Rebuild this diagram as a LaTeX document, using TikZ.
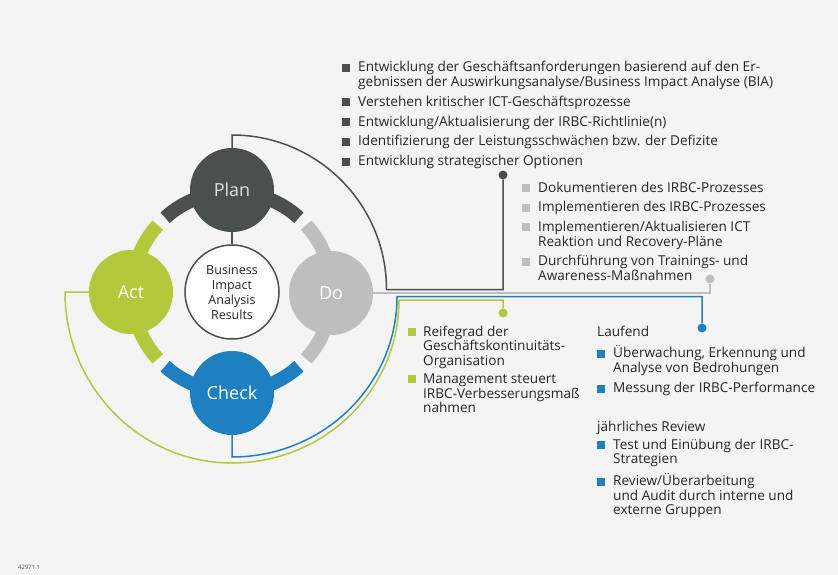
\documentclass[tikz,border=0pt]{standalone}
\usepackage{fontspec}
\setmainfont{Open Sans}
\usepackage{tikz}
\usetikzlibrary{calc}
\definecolor{plangray}{RGB}{75,79,78}
\definecolor{dogray}{RGB}{190,190,190}
\definecolor{checkblue}{RGB}{30,128,192}
\definecolor{actgreen}{RGB}{180,200,60}
\definecolor{paper}{RGB}{244,244,244}
\def\centerarm[#1](#2)(#3:#4){\draw[#1] ($(#2)+(#3:100)$) arc (#3:#4:100);}
\def\sq#1{\textcolor{#1}{\rule{8pt}{8pt}}}

\begin{document}
\begin{tikzpicture}[x=1pt, y=-1pt,
	stage/.style={circle, minimum size=84pt, inner sep=0pt, font=\fontsize{18}{20}\selectfont, text=white},
	link/.style={line width=1.5pt},
	arm/.style={line width=14pt},
	knob/.style={circle, minimum size=9pt, inner sep=0pt},
	txt/.style={anchor=base west, inner sep=0pt, text=black!85, font=\fontsize{13.6}{14.5}\selectfont}]
			%%%%% START %%%%%
			
			\fill[paper] (0, 0) rectangle (838, 575);
			\useasboundingbox (0, 0) rectangle (838, 575);
			
			\coordinate (C) at (232, 292);
			
			\centerarm[arm, plangray](C)(228:312);
			\centerarm[arm, dogray](C)(-42:42);
			\centerarm[arm, checkblue](C)(48:132);
			\centerarm[arm, actgreen](C)(138:222);
			
			\node[stage, fill=plangray, text=black!12] (plan) at (232, 190) {Plan};
			\node[stage, fill=dogray] (do) at (331, 293) {Do};
			\node[stage, fill=checkblue] (check) at (232, 393) {Check};
			\node[stage, fill=actgreen] (act) at (131, 292) {Act};
			\node[circle, draw=plangray, line width=1.5pt, fill=white, minimum size=94pt, inner sep=0pt, align=center, text=black!85, font=\fontsize{12.5}{15}\selectfont] (bia) at (C) {Business\\Impact\\Analysis\\Results};
			
			\draw[link, plangray] (plan.south) -- (bia.north);
			
			\node[knob, fill=plangray] (plandot) at (503, 175) {};
			\node[knob, fill=dogray] (dodot) at (710, 279) {};
			\node[knob, fill=checkblue] (checkdot) at (702, 328) {};
			\node[knob, fill=actgreen] (actdot) at (503, 313) {};
			
			\draw[link, plangray] (plan.north) -- (232, 135) arc (270:360:154.5) -- (503, 289.5) -- (plandot);
			\draw[link, dogray] (do.east) -- (710, 293) -- (dodot);
			\draw[link, checkblue] (check.south) -- (232, 457) arc [start angle=90, end angle=0, x radius=165, y radius=160.5] -- (702, 296.5) -- (checkdot);
			\draw[link, actgreen] (act.west) -- (65, 292) arc [start angle=180, end angle=90, x radius=167, y radius=171] arc [start angle=90, end angle=0, x radius=167, y radius=163] -- (503, 300) -- (actdot);
			
			\node[txt] (plantext) at (342, 72) {\begin{tabular}[t]{@{}l@{\hspace{8pt}}l@{}}
				\sq{plangray} & Entwicklung der Geschäftsanforderungen basierend auf den Er-\\
				& gebnissen der Auswirkungsanalyse/Business Impact Analyse (BIA)\\[5pt]
				\sq{plangray} & Verstehen kritischer ICT-Geschäftsprozesse\\[5pt]
				\sq{plangray} & Entwicklung/Aktualisierung der IRBC-Richtlinie(n)\\[5pt]
				\sq{plangray} & Identifizierung der Leistungsschwächen bzw. der Defizite\\[5pt]
				\sq{plangray} & Entwicklung strategischer Optionen
			\end{tabular}};
			
			\node[txt] (dotext) at (522, 192) {\begin{tabular}[t]{@{}l@{\hspace{8pt}}l@{}}
				\sq{dogray} & Dokumentieren des IRBC-Prozesses\\[5pt]
				\sq{dogray} & Implementieren des IRBC-Prozesses\\[5pt]
				\sq{dogray} & Implementieren/Aktualisieren ICT\\
				& Reaktion und Recovery-Pläne\\[5pt]
				\sq{dogray} & Durchführung von Trainings- und\\
				& Awareness-Maßnahmen
			\end{tabular}};
			
			\node[txt] (acttext) at (408, 336) {\begin{tabular}[t]{@{}l@{\hspace{7pt}}l@{}}
				\sq{actgreen} & Reifegrad der\\
				& Geschäftskontinuitäts-\\
				& Organisation\\[3.5pt]
				\sq{actgreen} & Management steuert\\
				& IRBC-Verbesserungsmaß\\
				& nahmen
			\end{tabular}};
			
			\node[txt] (checktext) at (597, 336) {\begin{tabular}[t]{@{}l@{\hspace{8pt}}l@{}}
				\multicolumn{2}{@{}l}{Laufend}\\[5.5pt]
				\sq{checkblue} & Überwachung, Erkennung und\\
				& Analyse von Bedrohungen\\[5.5pt]
				\sq{checkblue} & Messung der IRBC-Performance\\[23.5pt]
				\multicolumn{2}{@{}l}{jährliches Review}\\[3.5pt]
				\sq{checkblue} & Test und Einübung der IRBC-\\
				& Strategien\\[5.5pt]
				\sq{checkblue} & Review/Überarbeitung\\
				& und Audit durch interne und\\
				& externe Gruppen
			\end{tabular}};
			
			\node[anchor=west, inner sep=0pt, text=black!70, font=\fontsize{6}{7}\selectfont] (code) at (18, 567) {42971.1};
			
			%%%%% END %%%%%
		\end{tikzpicture}
\end{document}
